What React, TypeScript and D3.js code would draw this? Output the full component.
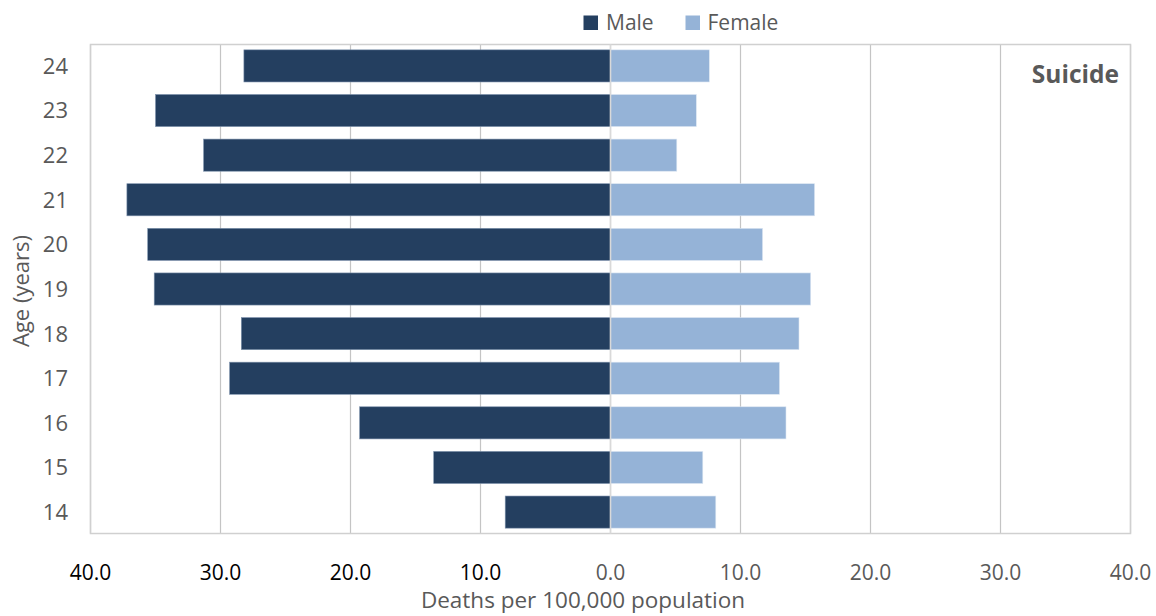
import React from "react";
import * as d3 from "d3";

const ages = ["24", "23", "22", "21", "20", "19", "18", "17", "16", "15", "14"];
const male = [28.2, 35.0, 31.3, 37.2, 35.6, 35.1, 28.4, 29.3, 19.3, 13.6, 8.1];
const female = [7.6, 6.6, 5.1, 15.7, 11.7, 15.4, 14.5, 13.0, 13.5, 7.1, 8.1];
const xTicks = [-40, -30, -20, -10, 0, 10, 20, 30, 40];

const W = 1156;
const H = 616;
const M = { left: 90.5, right: 1130.5, top: 44.5, bottom: 533.5 };
const MALE_C = "#243F60";
const FEMALE_C = "#95B3D7";
const TXT = "#595959";
const FONT = "'Open Sans', 'Noto Sans', sans-serif";

export default function App() {
  const x = d3.scaleLinear().domain([-40, 40]).range([M.left, M.right]);
  const y = d3
    .scaleBand<string>()
    .domain(ages)
    .range([M.top, M.bottom])
    .paddingInner(0.28)
    .paddingOuter(0.12);
  const bw = y.bandwidth();

  return (
    <svg
      width={W}
      height={H}
      style={{ position: "absolute", left: 0, top: 0, background: "#fff" }}
      fontFamily={FONT}
    >
      {/* gridlines */}
      {xTicks.map((t) => (
        <line
          key={"g" + t}
          x1={x(t)}
          x2={x(t)}
          y1={M.top}
          y2={M.bottom}
          stroke="#c4c4c4"
          strokeWidth={1.2}
        />
      ))}
      {/* plot border */}
      <rect
        x={M.left}
        y={M.top}
        width={M.right - M.left}
        height={M.bottom - M.top}
        fill="none"
        stroke="#d0d0d0"
        strokeWidth={1.5}
      />
      {/* bars */}
      {ages.map((a, i) => (
        <g key={"b" + a}>
          <rect
            x={x(-male[i])}
            y={y(a)}
            width={x(0) - x(-male[i])}
            height={bw}
            fill={MALE_C}
            stroke="#7f93ad"
            strokeWidth={0.6}
          />
          <rect
            x={x(0)}
            y={y(a)}
            width={x(female[i]) - x(0)}
            height={bw}
            fill={FEMALE_C}
            stroke="#dce6f2"
            strokeWidth={0.6}
          />
        </g>
      ))}
      {/* center axis line */}
      <line
        x1={x(0)}
        x2={x(0)}
        y1={M.top}
        y2={M.bottom}
        stroke="#d9d9d9"
        strokeWidth={1.6}
      />
      {/* x tick labels */}
      {xTicks.map((t) => (
        <text
          key={"t" + t}
          x={x(t)}
          y={579.5}
          textAnchor="middle"
          fontSize={21}
          fill={t < 0 ? "#000" : TXT}
        >
          {Math.abs(t).toFixed(1)}
        </text>
      ))}
      {/* y tick labels */}
      {ages.map((a) => (
        <text
          key={"y" + a}
          x={68}
          y={(y(a) as number) + bw / 2}
          dy="0.36em"
          textAnchor="end"
          fontSize={22}
          fill={TXT}
        >
          {a}
        </text>
      ))}
      {/* axis titles */}
      <text
        x={583}
        y={608}
        textAnchor="middle"
        fontSize={22.5}
        fill={TXT}
      >
        Deaths per 100,000 population
      </text>
      <text
        transform={`translate(29,291) rotate(-90)`}
        textAnchor="middle"
        fontSize={22}
        fill={TXT}
      >
        Age (years)
      </text>
      {/* Suicide label */}
      <text
        x={1119}
        y={83}
        textAnchor="end"
        fontSize={24.5}
        fontWeight="bold"
        fill={TXT}
      >
        Suicide
      </text>
      {/* legend */}
      <rect x={583.5} y={15.5} width={14.5} height={14.5} fill={MALE_C} />
      <text x={606} y={30} fontSize={21} fill={TXT}>
        Male
      </text>
      <rect x={685.5} y={15.5} width={14.5} height={14.5} fill={FEMALE_C} />
      <text x={707.5} y={30} fontSize={21} fill={TXT}>
        Female
      </text>
    </svg>
  );
}
